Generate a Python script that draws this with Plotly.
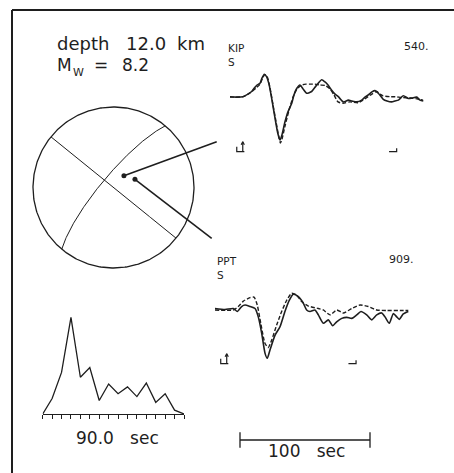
import numpy as np
import plotly.graph_objects as go

W, H = 454, 473

# ---------------- data ----------------
# KIP S waveform (time in s from window start, amplitude normalised to trough)
kip_obs_t = [0, 4.6, 10.0, 13.8, 16.7, 19.2, 20.8, 23.1, 24.6, 26.4, 28.2, 30.0, 32.3, 34.6, 36.9, 38.5,
             40.0, 42.3, 44.6, 47.5, 49.2, 51.3, 53.8, 56.2, 59.0, 62.8, 66.2, 70.5, 73.1, 75.4, 78.2,
             80.8, 83.3, 87.2, 91.0, 93.8, 97.5, 101.3, 103.8, 106.4, 109.2, 111.5, 114.1, 117.9, 120.8,
             124.4, 126.9, 129.5, 133.3, 137.2, 140.0, 143.6, 146.2, 148.7]
kip_obs_a = [0, -0.01, 0, 0.06, 0.12, 0.22, 0.27, 0.31, 0.43, 0.52, 0.46, 0.29, -0.08, -0.49, -0.86, -1.00,
             -0.88, -0.58, -0.35, -0.15, 0.04, 0.19, 0.27, 0.18, 0.08, 0.12, 0.25, 0.39, 0.34, 0.27, 0.15,
             0.06, 0.0, -0.12, -0.08, -0.10, -0.12, -0.08, -0.01, 0.04, 0.11, 0.14, 0.08, -0.06, -0.10,
             -0.12, -0.10, -0.08, 0.02, -0.04, -0.03, -0.01, -0.08, -0.10]
kip_syn_t = [0, 10.0, 15.4, 20.0, 23.1, 25.4, 26.9, 28.8, 30.8, 33.1, 35.4, 37.7, 38.8, 40.0, 42.3, 45.4,
             48.5, 51.5, 55.2, 58.5, 61.5, 65.4, 69.2, 73.1, 76.9, 80.0, 83.1, 86.9, 92.3, 98.5, 102.3,
             106.2, 109.2, 112.8, 115.4, 117.7, 123.1, 126.9, 132.3, 138.5, 143.8, 148.5]
kip_syn_a = [-0.01, 0, 0.09, 0.20, 0.29, 0.45, 0.51, 0.45, 0.20, -0.19, -0.58, -0.95, -1.07, -0.98, -0.68, -0.31,
             -0.01, 0.18, 0.27, 0.29, 0.29, 0.29, 0.27, 0.26, 0.18, 0.04, -0.12, -0.15, -0.12, -0.14, -0.08,
             0.0, 0.06, 0.12, 0.06, 0.02, 0.0, 0.0, -0.02, -0.03, -0.05, -0.08]

# PPT S waveform
ppt_obs_t = [0, 7.7, 14.1, 17.2, 20.5, 23.1, 26.9, 30.8, 33.3, 35.9, 38.5, 40.2, 42.3, 46.2, 50.0, 53.8,
             57.2, 60.2, 64.1, 67.9, 70.5, 73.1, 76.9, 79.5, 83.3, 87.2, 90.5, 93.6, 97.5, 101.3, 105.2,
             109.0, 112.3, 116.7, 120.5, 124.4, 128.2, 130.8, 134.1, 137.2, 139.8, 141.8, 144.8, 148.7]
ppt_obs_a = [0.01, -0.01, 0.01, -0.05, 0.05, 0.08, 0.05, 0.01, -0.16, -0.49, -0.90, -1.00, -0.83, -0.53, -0.36, -0.05,
             0.18, 0.30, 0.25, 0.12, -0.02, -0.05, -0.02, -0.12, -0.29, -0.22, -0.34, -0.26, -0.19, -0.17, -0.19,
             -0.12, -0.05, -0.12, -0.22, -0.12, -0.08, -0.16, -0.29, -0.09, -0.16, -0.21, -0.10, -0.05]
ppt_syn_t = [0, 14.1, 17.9, 21.8, 26.9, 30.0, 32.5, 35.2, 38.5, 41.0, 43.6, 47.5, 51.3, 55.2, 59.0, 62.8,
             66.7, 71.8, 79.5, 83.3, 88.5, 93.6, 98.7, 105.2, 111.5, 117.9, 124.4, 132.1, 142.3, 148.7]
ppt_syn_a = [-0.02, -0.02, 0.05, 0.16, 0.23, 0.24, 0.08, -0.29, -0.70, -0.78, -0.63, -0.32, -0.05, 0.18, 0.32, 0.28,
             0.15, 0.06, 0.01, -0.02, -0.12, -0.02, -0.08, 0.01, 0.08, 0.05, -0.02, -0.03, -0.03, -0.03]

# analysis windows (s)
kip_window = [5.2, 128.2]
ppt_window = [4.4, 108.5]

# source time function (s, normalised)
stf_t = [0, 6, 12, 18, 24, 30, 36, 42, 48, 54, 60, 66, 72, 78, 84, 90]
stf_a = [0, 0.16, 0.43, 1.0, 0.38, 0.48, 0.14, 0.31, 0.21, 0.28, 0.18, 0.32, 0.12, 0.21, 0.04, 0]

# focal mechanism nodal planes and station positions
plane_strike = [309, 220]
plane_dip = [90, 78]
sta_names = ["KIP", "PPT"]
sta_phase = ["S", "S"]
sta_amp = ["540.", "909."]
sta_az = [41.5, 69.0]
sta_takeoff = [15.9, 23.3]

depth_km = "12.0"
mw = "8.2"
stf_len_label = "90.0"
scale_sec = 100

# ---------------- helpers ----------------
INK = "#1e1e1e"
FONT = "DejaVu Sans"


def px_axes(px0, px1, py0, py1, xo, xs, yo, ys):
    xd = [px0 / W, px1 / W]
    yd = [1 - py1 / H, 1 - py0 / H]
    xr = [(px0 - xo) / xs, (px1 - xo) / xs]
    yr = [(yo - py1) / ys, (yo - py0) / ys]
    return xd, yd, xr, yr


def project(az_deg, inc_deg):
    az = np.radians(az_deg)
    inc = np.radians(inc_deg)
    r = np.sqrt(2) * np.sin(inc / 2)
    return r * np.sin(az), r * np.cos(az)


def great_circle(strike, dip):
    phi = np.radians(strike)
    dl = np.radians(dip)
    s = np.array([np.sin(phi), np.cos(phi), 0.0])
    d = np.array([np.cos(dl) * np.sin(phi + np.pi / 2), np.cos(dl) * np.cos(phi + np.pi / 2), np.sin(dl)])
    th = np.linspace(0, np.pi, 181)
    v = np.outer(np.cos(th), s) + np.outer(np.sin(th), d)
    down = np.clip(v[:, 2], -1, 1)
    inc = np.degrees(np.arccos(down))
    az = np.degrees(np.arctan2(v[:, 0], v[:, 1]))
    return project(az, inc)


def window_marks(win, level, xs, ys):
    t0, t1 = win
    hx = 7.6 / xs
    vy = 5.0 / ys
    ax = 6.0 / xs
    ah = 10.0 / ys
    X = [t0, t0, t0 + hx, None,
         t0 + ax, t0 + ax, None,
         t0 + ax - 1.6 / xs, t0 + ax, t0 + ax + 1.6 / xs, None,
         t1 - hx, t1, t1]
    Y = [level + vy, level, level, None,
         level, level + ah, None,
         level + ah - 3.0 / ys, level + ah, level + ah - 3.0 / ys, None,
         level, level, level + vy * 0.7]
    return X, Y


fig = go.Figure()

# ---------------- focal sphere (axis 1) ----------------
SPH = dict(xo=113.5, yo=187.5, s=80.5)
sd = px_axes(20, 232, 95, 280, SPH["xo"], SPH["s"], SPH["yo"], SPH["s"])
th = np.linspace(0, 2 * np.pi, 361)
fig.add_trace(go.Scatter(x=np.cos(th), y=np.sin(th), mode="lines",
                         line=dict(color=INK, width=1.3), xaxis="x", yaxis="y", hoverinfo="skip"))
for stk, dp in zip(plane_strike, plane_dip):
    gx, gy = great_circle(stk, dp)
    fig.add_trace(go.Scatter(x=gx, y=gy, mode="lines", line=dict(color=INK, width=1.0),
                             xaxis="x", yaxis="y", hoverinfo="skip"))
# connector end points (layout, in sphere units)
conn_end = [((216.7 - SPH["xo"]) / SPH["s"], (SPH["yo"] - 141.7) / SPH["s"]),
            ((211.7 - SPH["xo"]) / SPH["s"], (SPH["yo"] - 238.3) / SPH["s"])]
for i in range(2):
    sx, sy = project(sta_az[i], sta_takeoff[i])
    fig.add_trace(go.Scatter(x=[sx, conn_end[i][0]], y=[sy, conn_end[i][1]], mode="lines",
                             line=dict(color=INK, width=1.6), xaxis="x", yaxis="y", hoverinfo="skip"))
    fig.add_trace(go.Scatter(x=[sx], y=[sy], mode="markers", marker=dict(color=INK, size=5),
                             xaxis="x", yaxis="y", hoverinfo="skip"))

# ---------------- waveforms (axes 2, 3) ----------------
KIP = dict(xo=230, xs=1.3, yo=96.7, ys=43.3, level=-1.27)
PPT = dict(xo=215, xs=1.3, yo=309.0, ys=49.3, level=-1.11)
kd = px_axes(200, 454, 60, 160, KIP["xo"], KIP["xs"], KIP["yo"], KIP["ys"])
pd_ = px_axes(200, 454, 270, 375, PPT["xo"], PPT["xs"], PPT["yo"], PPT["ys"])

for (ot, oa, st, sa, win, P, ax) in [
        (kip_obs_t, kip_obs_a, kip_syn_t, kip_syn_a, kip_window, KIP, "2"),
        (ppt_obs_t, ppt_obs_a, ppt_syn_t, ppt_syn_a, ppt_window, PPT, "3")]:
    fig.add_trace(go.Scatter(x=st, y=sa, mode="lines",
                             line=dict(color=INK, width=1.4, dash="4px,2px", shape="spline", smoothing=0.6),
                             xaxis="x" + ax, yaxis="y" + ax, hoverinfo="skip"))
    fig.add_trace(go.Scatter(x=ot, y=oa, mode="lines",
                             line=dict(color=INK, width=1.6, shape="spline", smoothing=0.6),
                             xaxis="x" + ax, yaxis="y" + ax, hoverinfo="skip"))
    mx, my = window_marks(win, P["level"], P["xs"], P["ys"])
    fig.add_trace(go.Scatter(x=mx, y=my, mode="lines", line=dict(color=INK, width=1.2),
                             xaxis="x" + ax, yaxis="y" + ax, hoverinfo="skip"))

# ---------------- source time function (axis 4) ----------------
STF = dict(xo=42.7, xs=(184 - 42.7) / 90.0, yo=414, ys=96.7)
fd = px_axes(42.7, 184, 305, 414, STF["xo"], STF["xs"], STF["yo"], STF["ys"])
fig.add_trace(go.Scatter(x=stf_t, y=stf_a, mode="lines", line=dict(color=INK, width=1.3),
                         xaxis="x4", yaxis="y4", hoverinfo="skip"))

# ---------------- time scale bar (axis 5) ----------------
bd = px_axes(236, 374, 430, 450, 240, 1.3, 440, 1.0)
fig.add_trace(go.Scatter(x=[0, scale_sec], y=[0, 0], mode="lines+markers",
                         line=dict(color=INK, width=1.3),
                         marker=dict(symbol="line-ns", size=11, line=dict(color=INK, width=1.3)),
                         xaxis="x5", yaxis="y5", hoverinfo="skip"))

hidden = dict(visible=False, showgrid=False, zeroline=False, fixedrange=True)
layout = dict(
    width=W, height=H, margin=dict(l=0, r=0, t=0, b=0),
    paper_bgcolor="white", plot_bgcolor="rgba(0,0,0,0)", showlegend=False,
    font=dict(family=FONT, color=INK, size=12),
    xaxis=dict(domain=sd[0], range=sd[2], **hidden),
    yaxis=dict(domain=sd[1], range=sd[3], **hidden),
    xaxis2=dict(domain=kd[0], range=kd[2], anchor="y2", **hidden),
    yaxis2=dict(domain=kd[1], range=kd[3], anchor="x2", **hidden),
    xaxis3=dict(domain=pd_[0], range=pd_[2], anchor="y3", **hidden),
    yaxis3=dict(domain=pd_[1], range=pd_[3], anchor="x3", **hidden),
    xaxis4=dict(domain=fd[0], range=fd[2], anchor="y4", showline=True, linecolor=INK, linewidth=1.3,
                ticks="outside", tickvals=stf_t, ticklen=4, tickwidth=1.1, tickcolor=INK,
                showticklabels=False, showgrid=False, zeroline=False, fixedrange=True),
    yaxis4=dict(domain=fd[1], range=fd[3], anchor="x4", **hidden),
    xaxis5=dict(domain=bd[0], range=bd[2], anchor="y5", **hidden),
    yaxis5=dict(domain=bd[1], range=bd[3], anchor="x5", **hidden),
)
fig.update_layout(**layout)

# frame: left and top edges (right/bottom fall outside the picture)
fig.add_shape(type="line", xref="paper", yref="paper", x0=12 / W, x1=1.0, y0=1 - 10 / H, y1=1 - 10 / H,
              line=dict(color=INK, width=2))
fig.add_shape(type="line", xref="paper", yref="paper", x0=12 / W, x1=12 / W, y0=0.0, y1=1 - 10 / H,
              line=dict(color=INK, width=2))


def ann(text, px, py, size, xanchor="left", yanchor="middle"):
    fig.add_annotation(text=text, x=px / W, y=1 - py / H, xref="paper", yref="paper",
                       xanchor=xanchor, yanchor=yanchor, showarrow=False, borderpad=0, align="left",
                       font=dict(family=FONT, size=size, color=INK))


ann("depth", 56, 43, 18)
ann(depth_km, 124.5, 43, 18)
ann("km", 176, 43, 18)
ann("M", 56, 64.5, 17)
ann("W", 72, 72.5, 11)
ann("=", 101, 64.5, 17, "center")
ann(mw, 121, 64.5, 17)
ann(sta_names[0] + "<br>" + sta_phase[0], 227.5, 41.0, 10.5, yanchor="top")
ann(sta_amp[0], 402.5, 46.5, 11)
ann(sta_names[1] + "<br>" + sta_phase[1], 215.5, 253.5, 10.5, yanchor="top")
ann(sta_amp[1], 387.5, 259, 11)
ann(stf_len_label + "\u00a0\u00a0\u00a0sec", 117.5, 438, 17, "center")
ann(str(scale_sec) + "\u00a0\u00a0\u00a0sec", 306.5, 451, 17, "center")

fig.write_html("out.html")
